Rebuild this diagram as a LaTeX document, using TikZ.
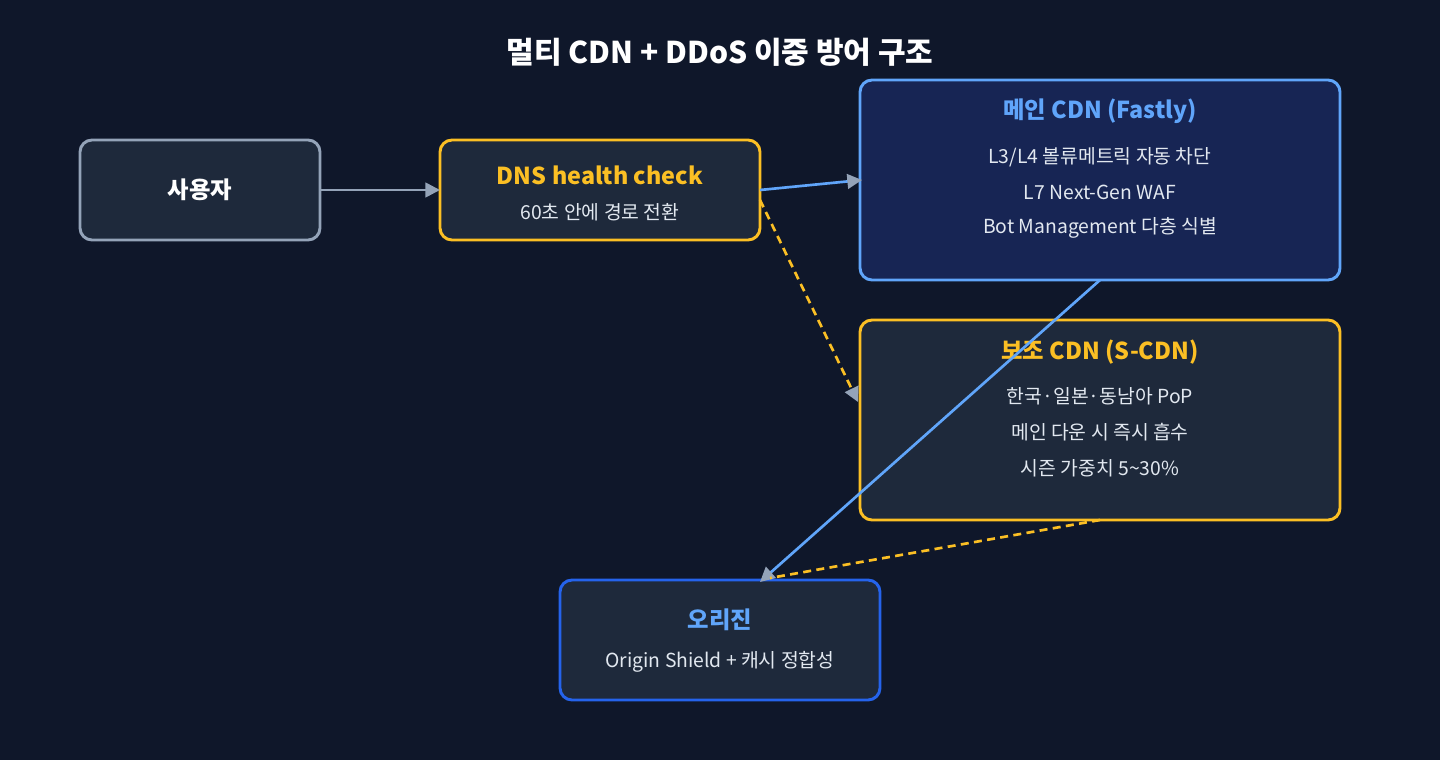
\documentclass[tikz,border=0pt]{standalone}
\usepackage{fontspec}
\setmainfont{Noto Sans CJK KR}
\usetikzlibrary{arrows.meta}
\definecolor{bg}{HTML}{0F172A}
\definecolor{nfill}{HTML}{1E293B}
\definecolor{mfill}{HTML}{172554}
\definecolor{gry}{HTML}{94A3B8}
\definecolor{yel}{HTML}{FBBF24}
\definecolor{blu}{HTML}{60A5FA}
\definecolor{dblu}{HTML}{2563EB}
\definecolor{txt}{HTML}{E2E8F0}
\begin{document}
\begin{tikzpicture}[x=0.75pt,y=-0.75pt,
 box/.style={line width=2.2pt,rounded corners=9pt},
 hd/.style={font=\fontsize{17.5}{20}\selectfont\bfseries},
 bd/.style={font=\fontsize{14.5}{17}\selectfont,text=txt},
 arr/.style={line width=2pt,-{Triangle[length=11pt,width=11pt,fill=gry,color=gry]}}]
\fill[bg] (0,0) rectangle (1440,760);
\node[font=\fontsize{22.5}{26}\selectfont\bfseries,text=white] (title) at (720,52) {멀티 CDN + DDoS 이중 방어 구조};
\draw[box,draw=gry,fill=nfill] (80,140) rectangle (320,240);
\node[hd,text=white] (u) at (200,190) {사용자};
\coordinate (uE) at (320,190);
\draw[box,draw=yel,fill=nfill] (440,140) rectangle (760,240);
\node[hd,text=yel] (d) at (600,175) {DNS health check};
\node[bd] (d2) at (600,212) {60초 안에 경로 전환};
\coordinate (dW) at (440,190);
\draw[box,draw=blu,fill=mfill] (860,80) rectangle (1340,280);
\node[hd,text=blu] (m) at (1100,111) {메인 CDN (Fastly)};
\node[bd] (m1) at (1100,157) {L3/L4 볼류메트릭 자동 차단};
\node[bd] (m2) at (1100,192) {L7 Next-Gen WAF};
\node[bd] (m3) at (1100,228) {Bot Management 다층 식별};
\draw[box,draw=yel,fill=nfill] (860,320) rectangle (1340,520);
\node[hd,text=yel] (s) at (1100,352) {보조 CDN (S-CDN)};
\node[bd] (s1) at (1100,396) {한국·일본·동남아 PoP};
\node[bd] (s2) at (1100,432) {메인 다운 시 즉시 흡수};
\node[bd] (s3) at (1100,468) {시즌 가중치 5\textasciitilde30\%};
\draw[box,draw=dblu,fill=nfill] (560,580) rectangle (880,700);
\node[hd,text=blu] (o) at (720,620) {오리진};
\node[bd] (o1) at (720,662) {Origin Shield + 캐시 정합성};
\coordinate (dE) at (760,190); \coordinate (mW) at (862,180);
\coordinate (dSE) at (760,200); \coordinate (sW) at (858,402);
\coordinate (mS) at (1100,280); \coordinate (oN) at (760,582);
\coordinate (sS) at (1100,520); \coordinate (oN2) at (770,578);
\draw[arr,gry] (uE) -- (dW);
\draw[arr,blu] (dE) -- (mW);
\draw[arr,yel,dash pattern=on 6pt off 4pt] (dSE) -- (sW);
\draw[arr,blu] (mS) -- (oN);
\draw[line width=2pt,yel,dash pattern=on 6pt off 4pt] (sS) -- (oN2);
\end{tikzpicture}
\end{document}
